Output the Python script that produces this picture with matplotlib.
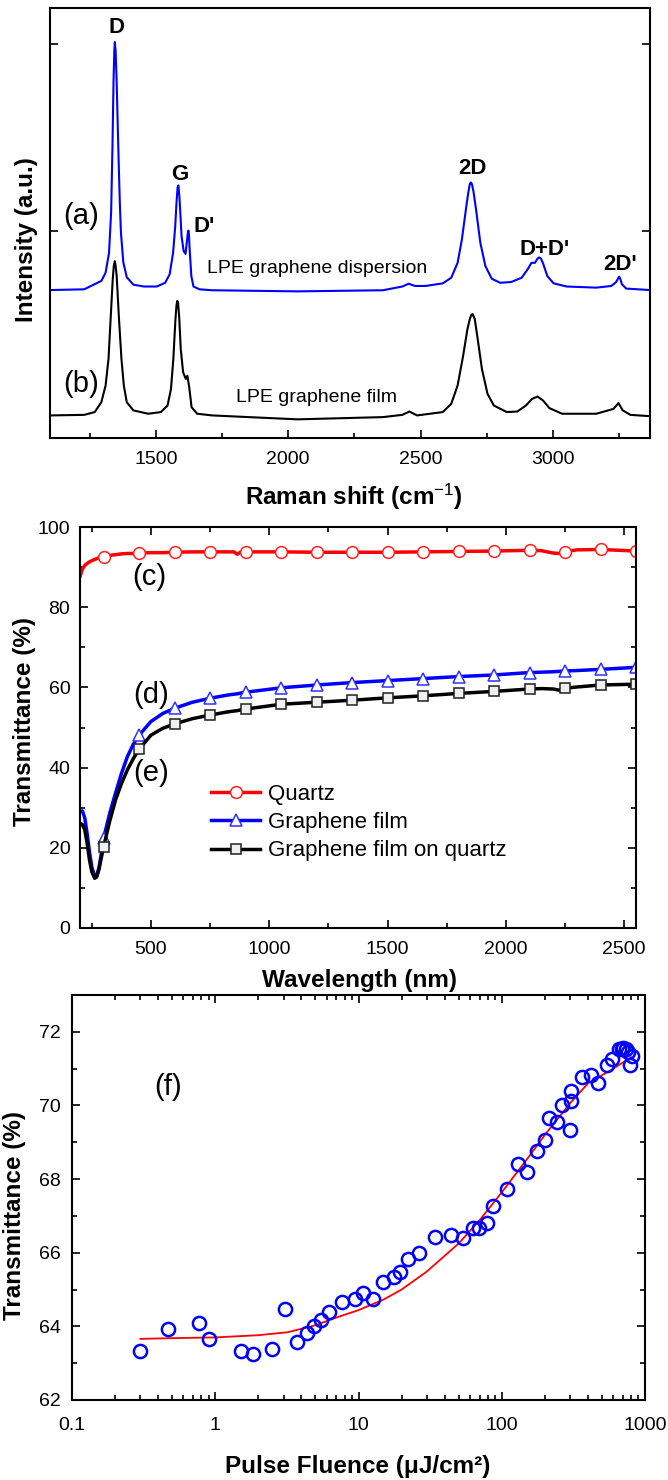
import numpy as np
import matplotlib
matplotlib.use('Agg')
import matplotlib.pyplot as plt
from matplotlib.ticker import MultipleLocator, LogLocator, NullFormatter

plt.rcParams['font.family'] = ['Liberation Sans', 'DejaVu Sans']
plt.rcParams['mathtext.fontset'] = 'custom'
plt.rcParams['mathtext.rm'] = 'Liberation Sans'
plt.rcParams['mathtext.it'] = 'Liberation Sans:italic'
plt.rcParams['mathtext.bf'] = 'Liberation Sans:bold'

# ---------------- Panel 1: Raman spectra ----------------
raman_x_disp = [1100, 1229, 1294, 1310, 1323, 1331, 1336, 1340, 1343, 1345, 1348, 1352, 1356, 1360, 1364,
                1368, 1377, 1390, 1415, 1455, 1503, 1535, 1552, 1565, 1573, 1578, 1582, 1585, 1589, 1593,
                1597, 1605, 1612, 1618, 1621, 1623, 1625, 1627, 1634, 1642, 1665, 1713, 2035, 2358, 2431,
                2455, 2479, 2519, 2584, 2616, 2640, 2656, 2673, 2680, 2686, 2690, 2694, 2700, 2710,
                2726, 2745, 2769, 2801, 2842, 2882, 2906, 2919, 2932, 2942, 2948, 2955, 2963,
                2979, 3003, 3052, 3164, 3221, 3239, 3247, 3251, 3255, 3261, 3277, 3367]
raman_y_disp = [0.681, 0.685, 0.730, 0.774, 0.880, 1.100, 1.450, 1.800, 1.960, 2.010, 1.960, 1.790, 1.560, 1.340, 1.140,
                0.990, 0.830, 0.750, 0.710, 0.700, 0.700, 0.720, 0.765, 0.880, 1.020, 1.150, 1.230, 1.242, 1.180, 1.080,
                0.970, 0.890, 0.875, 0.950, 0.990, 1.000, 0.980, 0.916, 0.756, 0.700, 0.685, 0.680, 0.674, 0.680, 0.700,
                0.715, 0.703, 0.703, 0.717, 0.747, 0.827, 0.950, 1.130, 1.200, 1.248, 1.258, 1.250, 1.210, 1.110,
                0.934, 0.810, 0.742, 0.720, 0.724, 0.747, 0.795, 0.827, 0.827, 0.849, 0.856, 0.850, 0.824,
                0.756, 0.717, 0.700, 0.694, 0.703, 0.724, 0.745, 0.753, 0.740, 0.712, 0.689, 0.681]

raman_x_film = [1100, 1229, 1269, 1294, 1310, 1321, 1329, 1337, 1341, 1345, 1348, 1352, 1360, 1370,
                1379, 1390, 1415, 1471, 1519, 1544, 1557, 1566, 1574, 1578, 1581, 1584, 1588, 1594,
                1603, 1613, 1619, 1626, 1635, 1656, 1713, 2035, 2358, 2431, 2458, 2487,
                2584, 2616, 2640, 2661, 2677, 2686, 2692, 2697, 2705, 2716, 2732, 2753, 2777,
                2826, 2866, 2898, 2922, 2942, 2963, 2987, 3035, 3164, 3229, 3248, 3264,
                3293, 3367]
raman_y_film = [0.009, 0.012, 0.027, 0.080, 0.169, 0.311, 0.525, 0.738, 0.810, 0.836, 0.810, 0.756, 0.543, 0.311,
                0.169, 0.080, 0.036, 0.018, 0.027, 0.062, 0.150, 0.311, 0.525, 0.600, 0.623, 0.610, 0.540, 0.365,
                0.240, 0.205, 0.222, 0.160, 0.053, 0.018, 0.009, -0.012, 0.000, 0.012, 0.030, 0.009,
                0.027, 0.071, 0.169, 0.329, 0.470, 0.525, 0.548, 0.552, 0.525, 0.418, 0.258, 0.125, 0.062,
                0.027, 0.030, 0.062, 0.098, 0.110, 0.089, 0.048, 0.018, 0.018, 0.044, 0.075, 0.036,
                0.012, 0.005]

peak_labels = ["D", "G", "D'", "2D", "D+D'", "2D'"]
peak_label_x = [1350, 1592, 1682, 2697, 2968, 3253]
peak_label_y = [2.09, 1.30, 1.02, 1.33, 0.90, 0.82]

# ---------------- Panel 2: Transmittance spectra ----------------
wl = [200, 210, 220, 230, 240, 250, 262, 270, 280, 290, 300, 325, 350, 375, 400, 425, 450,
      500, 550, 600, 675, 750, 825, 850, 865, 880, 900, 1050, 1200, 1350, 1500, 1650, 1800,
      1950, 2100, 2150, 2200, 2225, 2250, 2300, 2400, 2550]
T_quartz = [87.6, 89.5, 90.4, 90.9, 91.3, 91.6, 91.9, 92.1, 92.3, 92.4, 92.5, 92.9, 93.1, 93.3, 93.4, 93.4, 93.5,
            93.6, 93.6, 93.7, 93.8, 93.8, 93.8, 93.8, 93.2, 93.8, 93.8, 93.8, 93.7, 93.7, 93.7, 93.8, 93.9,
            94.0, 94.2, 94.1, 93.5, 93.4, 93.8, 94.3, 94.4, 94.0]
T_film = [29.0, 29.2, 27.5, 23.6, 19.0, 15.2, 12.8, 13.0, 15.0, 18.5, 22.4, 28.5, 33.6, 38.5, 42.7, 45.8, 48.1,
          51.5, 53.5, 54.8, 56.3, 57.3, 58.1, 58.3, 58.4, 58.6, 58.8, 59.9, 60.6, 61.2, 61.7, 62.2, 62.7,
          63.1, 63.7, 63.8, 63.9, 64.0, 64.1, 64.2, 64.5, 65.0]
T_film_quartz = [26.1, 25.8, 24.5, 21.2, 17.0, 14.0, 12.4, 12.7, 14.5, 17.5, 20.3, 26.5, 31.9, 36.0, 39.4, 42.2, 44.6,
                 48.1, 49.8, 50.9, 52.2, 53.1, 53.9, 54.1, 54.2, 54.4, 54.6, 55.8, 56.3, 56.8, 57.4, 57.9, 58.5,
                 59.0, 59.6, 59.7, 59.6, 59.3, 59.8, 60.1, 60.6, 60.8]
marker_wl = [300, 450, 600, 750, 900, 1050, 1200, 1350, 1500, 1650, 1800, 1950, 2100, 2250, 2400, 2550]
legend_labels = ["Quartz", "Graphene film", "Graphene film on quartz"]

# ---------------- Panel 3: transmittance vs pulse fluence ----------------
fluence = [0.30, 0.466, 0.77, 0.90, 1.51, 1.83, 2.49, 3.08, 3.75, 4.37, 4.92, 5.46, 6.19, 7.68,
           9.39, 10.8, 12.6, 14.9, 17.8, 19.6, 22.3, 26.5, 34.3, 44.0, 53.5, 62.8, 69.7, 78.9,
           87.0, 109, 129, 151, 175, 199, 215, 242, 263, 298, 302, 304, 362, 419, 472, 546,
           593, 654, 687, 706, 741, 762, 784, 806]
trans = [63.33, 63.94, 64.09, 63.66, 63.32, 63.24, 63.39, 64.48, 63.57, 63.81, 64.01, 64.18, 64.39, 64.67,
         64.75, 64.91, 64.75, 65.21, 65.34, 65.49, 65.82, 66.00, 66.43, 66.48, 66.39, 66.66, 66.68, 66.81,
         67.26, 67.72, 68.40, 68.20, 68.76, 69.05, 69.65, 69.56, 70.01, 69.32, 70.13, 70.40, 70.77, 70.82,
         70.62, 71.09, 71.27, 71.52, 71.53, 71.55, 71.52, 71.45, 71.09, 71.33]
fit_x = [0.3, 0.5, 1, 2, 3.2, 5, 7, 10, 15, 20, 30, 50, 70, 100, 150, 200, 300, 400, 600, 800]
fit_y = [63.66, 63.68, 63.70, 63.76, 63.84, 64.03, 64.24, 64.44, 64.73, 65.00, 65.49, 66.25, 66.88,
         67.64, 68.54, 69.20, 70.06, 70.60, 71.00, 71.31]
fluence_ticks = [0.1, 1, 10, 100, 1000]
fluence_ticklabels = ["0.1", "1", "10", "100", "1000"]

# ---------------- Figure ----------------
W, H = 668, 1480
fig = plt.figure(figsize=(W / 100, H / 100), dpi=100)


def ax_px(l, t, r, b):
    return fig.add_axes([l / W, 1 - b / H, (r - l) / W, (b - t) / H])


def style(ax, pad_x=9, pad_y=7, top=True, right=True):
    for s in ax.spines.values():
        s.set_linewidth(1.5)
    ax.tick_params(which='both', direction='in', top=top, right=right, labelsize=14, width=1.2)
    ax.tick_params(which='major', length=6)
    ax.tick_params(which='minor', length=3.5)
    ax.tick_params(axis='x', pad=pad_x)
    ax.tick_params(axis='y', pad=pad_y)


LBL = dict(fontsize=17.5, fontweight='bold')

# Panel 1
ax1 = ax_px(50, 8, 650, 438)
ax1.plot(raman_x_film, raman_y_film, color='black', lw=1.5)
ax1.plot(raman_x_disp, raman_y_disp, color='#0000ff', lw=1.5)
ax1.set_xlim(1100, 3367)
ax1.set_ylim(-0.112, 2.193)
ax1.set_xticks([1500, 2000, 2500, 3000])
ax1.xaxis.set_minor_locator(MultipleLocator(250))
ax1.set_yticks([1, 2])
ax1.set_yticklabels([])
style(ax1, top=False)
for t, x, y in zip(peak_labels, peak_label_x, peak_label_y):
    ax1.text(x, y, t, ha='center', va='center', fontsize=16, fontweight='bold')
ax1.text(1218, 1.08, '(a)', ha='center', va='center', fontsize=21)
ax1.text(1218, 0.18, '(b)', ha='center', va='center', fontsize=21)
ax1.text(2108, 0.795, 'LPE graphene dispersion', ha='center', va='center', fontsize=14, color='black')
ax1.text(2108, 0.107, 'LPE graphene film', ha='center', va='center', fontsize=14, color='black')
fig.text(27 / W, 1 - 240 / H, 'Intensity (a.u.)', rotation=90, ha='center', va='center', **LBL)
fig.text(354 / W, 1 - 497 / H, r'Raman shift (cm$^{-1}$)', ha='center', va='center', **LBL)

# Panel 2
ax2 = ax_px(80, 527, 636, 928)
mk = [i for i, w in enumerate(wl) if w in marker_wl]
ax2.plot(wl, T_quartz, color='#ff0000', lw=2.5, marker='o', ms=8.5, mfc='white', mec='#ff2020',
         mew=1.1, markevery=mk, label=legend_labels[0])
ax2.plot(wl, T_film, color='#0000ff', lw=2.5, marker='^', ms=9, mfc='white', mec='#3030ff',
         mew=1.1, markevery=mk, label=legend_labels[1])
ax2.plot(wl, T_film_quartz, color='black', lw=2.5, marker='s', ms=7.5, mfc='#f0f0f0', mec='#202020',
         mew=1.1, markevery=mk, label=legend_labels[2])
ax2.set_xlim(200, 2550)
ax2.set_ylim(0, 100)
ax2.set_xticks([500, 1000, 1500, 2000, 2500])
ax2.xaxis.set_minor_locator(MultipleLocator(250))
ax2.set_yticks([0, 20, 40, 60, 80, 100])
ax2.yaxis.set_minor_locator(MultipleLocator(10))
style(ax2)
ax2.text(492, 87.6, '(c)', ha='center', va='center', fontsize=21)
ax2.text(502, 58.1, '(d)', ha='center', va='center', fontsize=21)
ax2.text(502, 38.6, '(e)', ha='center', va='center', fontsize=21)
ax2.legend(loc='upper left', bbox_to_anchor=(0.236, 0.36), frameon=False, fontsize=16,
           borderpad=0, borderaxespad=0, handlelength=2.2, handletextpad=0.35, labelspacing=0.33)
fig.text(25 / W, 1 - 722 / H, 'Transmittance (%)', rotation=90, ha='center', va='center', **LBL)
fig.text(360 / W, 1 - 980 / H, 'Wavelength (nm)', ha='center', va='center', **LBL)

# Panel 3
ax3 = ax_px(72, 995, 645, 1400)
ax3.set_xscale('log')
ax3.plot(fit_x, fit_y, color='#ff0000', lw=1.3)
ax3.plot(fluence, trans, ls='none', marker='o', ms=9.5, mfc='none', mec='#0000ff', mew=1.8)
ax3.set_xlim(0.1, 1000)
ax3.set_ylim(62, 73)
ax3.set_xticks(fluence_ticks)
ax3.set_xticklabels(fluence_ticklabels)
ax3.xaxis.set_minor_locator(LogLocator(base=10, subs=np.arange(2, 10)))
ax3.xaxis.set_minor_formatter(NullFormatter())
ax3.set_yticks([62, 64, 66, 68, 70, 72])
ax3.yaxis.set_minor_locator(MultipleLocator(1))
style(ax3, pad_x=12, pad_y=8)
ax3.text(0.472, 70.5, '(f)', ha='center', va='center', fontsize=21)
fig.text(15 / W, 1 - 1216 / H, 'Transmittance (%)', rotation=90, ha='center', va='center', **LBL)
fig.text(358 / W, 1 - 1466 / H, 'Pulse Fluence (μJ/cm²)', ha='center', va='center', **LBL)

fig.savefig('out.png', dpi=100)
